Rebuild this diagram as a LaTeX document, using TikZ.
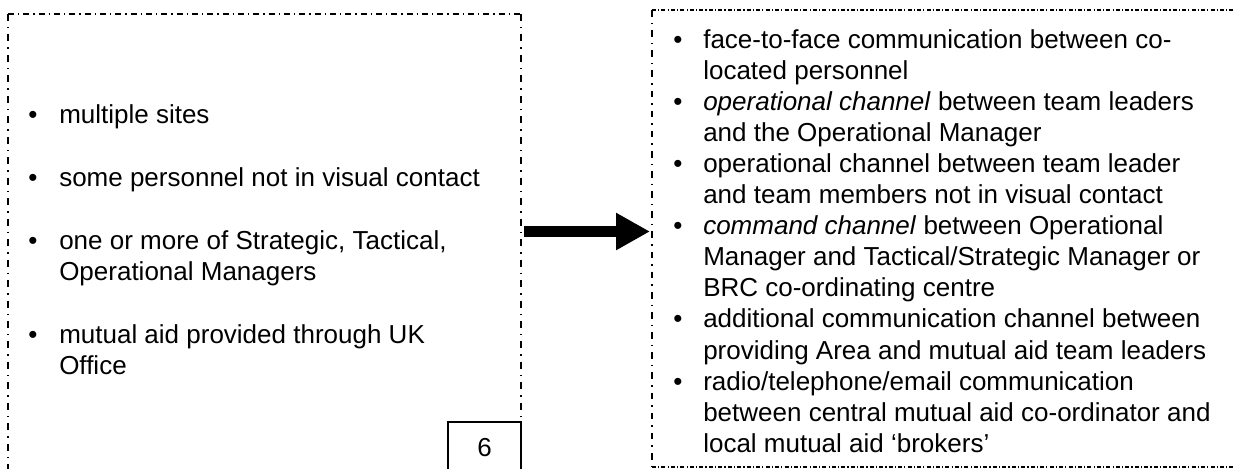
\documentclass[tikz,border=0pt]{standalone}
\usepackage{fontspec}
\setmainfont{Liberation Sans}
\usetikzlibrary{arrows.meta}
\begin{document}
\begin{tikzpicture}[x=0.75pt,y=-0.75pt,
  lhdash/.style={line width=0.9pt, dash pattern=on 4.5pt off 3pt on 1pt off 3pt},
  lvdash/.style={line width=0.9pt, dash pattern=on 5.25pt off 4.5pt on 1.1pt off 4.5pt},
  rhdash/.style={line width=0.8pt, dash pattern=on 3pt off 1.6pt on 0.9pt off 1.6pt},
  rvdash/.style={line width=0.8pt, dash pattern=on 5pt off 4.5pt on 1.1pt off 4.5pt},
  txt/.style={anchor=base west, inner sep=0, font=\fontsize{19.5pt}{23pt}\selectfont},
  bul/.style={anchor=base, inner sep=0, font=\fontsize{19.5pt}{23pt}\selectfont},
  bigarrow/.style={line width=8.25pt, -{Triangle[length=25.5pt,width=26.25pt]}},
  numframe/.style={line width=1.1pt}
]
\useasboundingbox (0,0) rectangle (1235,468);
\clip (0,0) rectangle (1235,468);

% left frame, open towards the bottom of the page
\coordinate (Lnw) at (8,14);
\coordinate (Lne) at (521,14);
\coordinate (Lsw) at (8,490);
\coordinate (Lse) at (521,490);
\draw[lhdash] (Lnw) -- (Lne);
\draw[lvdash] (Lnw) -- (Lsw);
\draw[lvdash] (Lne) -- (Lse);

% page-number box in the lower right corner of the left frame
\coordinate (Nnw) at (448,422);
\coordinate (Nse) at (521,490);
\draw[numframe] (Nnw) rectangle (Nse);
\node[bul] (six) at (484.5,456) {6};

% right frame
\coordinate (Rnw) at (652,10);
\coordinate (Rne) at (1245,10);
\coordinate (Rsw) at (652,467);
\coordinate (Rse) at (1245,467);
\draw[rhdash] (Rnw) -- (Rne);
\draw[rhdash] (Rsw) -- (Rse);
\draw[rvdash] (Rnw) -- (Rsw);

% left list
\node[bul] (lb1) at (33,123) {•};
\node[txt] (l1) at (59,123) {multiple sites};
\node[bul] (lb2) at (33,186) {•};
\node[txt] (l2) at (59,186) {some personnel not in visual contact};
\node[bul] (lb3) at (33,249) {•};
\node[txt] (l3a) at (59,249) {one or more of Strategic, Tactical,};
\node[txt] (l3b) at (59,280) {Operational Managers};
\node[bul] (lb4) at (33,343) {•};
\node[txt] (l4a) at (59,343) {mutual aid provided through UK};
\node[txt] (l4b) at (59,374) {Office};

% right list
\node[bul] (rb1) at (678,48) {•};
\node[txt] (r1a) at (703,48) {face-to-face communication between co-};
\node[txt] (r1b) at (703,79.1) {located personnel};
\node[bul] (rb2) at (678,110.2) {•};
\node[txt] (r2a) at (703,110.2) {\textit{operational channel} between team leaders};
\node[txt] (r2b) at (703,141.3) {and the Operational Manager};
\node[bul] (rb3) at (678,172.4) {•};
\node[txt] (r3a) at (703,172.4) {operational channel between team leader};
\node[txt] (r3b) at (703,203.5) {and team members not in visual contact};
\node[bul] (rb4) at (678,234.6) {•};
\node[txt] (r4a) at (703,234.6) {\textit{command channel} between Operational};
\node[txt] (r4b) at (703,265.7) {Manager and Tactical/Strategic Manager or};
\node[txt] (r4c) at (703,296.8) {BRC co-ordinating centre};
\node[bul] (rb5) at (678,327.9) {•};
\node[txt] (r5a) at (703,327.9) {additional communication channel between};
\node[txt] (r5b) at (703,359) {providing Area and mutual aid team leaders};
\node[bul] (rb6) at (678,390.1) {•};
\node[txt] (r6a) at (703,390.1) {radio/telephone/email communication};
\node[txt] (r6b) at (703,421.2) {between central mutual aid co-ordinator and};
\node[txt] (r6c) at (703,452.3) {local mutual aid ‘brokers’};

% block arrow between the frames
\coordinate (arrowfrom) at (524,231.5);
\coordinate (arrowto) at (650,231.5);
\draw[bigarrow] (arrowfrom) -- (arrowto);
\end{tikzpicture}
\end{document}
